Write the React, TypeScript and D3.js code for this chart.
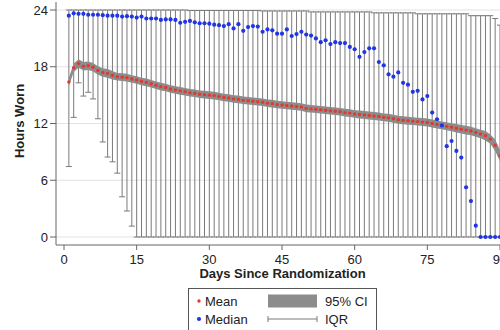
import React from "react";
import * as d3 from "d3";

// Daily device wear, days 1..90 after randomization
const days: number[] = d3.range(1, 91);

const meanHours: number[] = [
  16.4, 17.9, 18.35, 18.05, 18.1, 17.95, 17.6, 17.4, 17.3, 17.1,
  16.95, 16.9, 16.85, 16.7, 16.6, 16.45, 16.35, 16.2, 16.05, 15.9,
  15.8, 15.65, 15.55, 15.45, 15.35, 15.25, 15.2, 15.1, 15.05, 15.0,
  14.95, 14.85, 14.75, 14.7, 14.6, 14.55, 14.45, 14.4, 14.35, 14.3,
  14.25, 14.15, 14.1, 14.0, 13.95, 13.9, 13.85, 13.8, 13.75, 13.6,
  13.55, 13.5, 13.45, 13.4, 13.35, 13.3, 13.25, 13.15, 13.1, 13.0,
  12.95, 12.9, 12.85, 12.8, 12.75, 12.65, 12.6, 12.5, 12.4, 12.35,
  12.3, 12.25, 12.2, 12.15, 12.1, 12.0, 11.9, 11.8, 11.7, 11.6,
  11.5, 11.4, 11.3, 11.2, 11.05, 10.9, 10.7, 10.35, 9.7, 8.6,
];

// Half-width of the 95% confidence interval of the mean
const ciHalfWidth: number[] = [
  0.45, 0.45, 0.45, 0.45, 0.45, 0.45, 0.45, 0.45, 0.45, 0.45,
  0.4, 0.4, 0.4, 0.4, 0.4, 0.4, 0.4, 0.4, 0.4, 0.4,
  0.4, 0.4, 0.4, 0.4, 0.4, 0.4, 0.4, 0.4, 0.4, 0.4,
  0.4, 0.4, 0.4, 0.4, 0.4, 0.4, 0.4, 0.4, 0.4, 0.4,
  0.4, 0.4, 0.4, 0.4, 0.4, 0.4, 0.4, 0.4, 0.4, 0.4,
  0.4, 0.4, 0.4, 0.4, 0.4, 0.4, 0.4, 0.4, 0.4, 0.4,
  0.42, 0.42, 0.42, 0.42, 0.42, 0.42, 0.42, 0.42, 0.42, 0.42,
  0.42, 0.42, 0.42, 0.42, 0.42, 0.42, 0.42, 0.42, 0.42, 0.42,
  0.45, 0.45, 0.45, 0.45, 0.45, 0.45, 0.5, 0.5, 0.6, 0.6,
];

const medianHours: number[] = [
  23.4, 23.65, 23.6, 23.6, 23.5, 23.5, 23.5, 23.45, 23.4, 23.4,
  23.4, 23.3, 23.35, 23.3, 23.2, 23.3, 23.1, 23.1, 23.1, 22.95,
  23.0, 23.0, 22.95, 22.65, 22.75, 22.85, 22.7, 22.6, 22.6, 22.55,
  22.45, 22.4, 22.3, 22.5, 22.05, 22.5, 21.8, 22.2, 22.3, 22.25,
  21.7, 21.95, 21.85, 21.5, 21.5, 21.95, 21.25, 21.45, 21.7, 21.4,
  21.3, 21.0, 20.6, 20.8, 20.4, 20.6, 20.5, 20.5, 20.1, 19.85,
  19.05, 19.55, 19.95, 19.95, 18.5, 18.15, 17.2, 16.95, 17.4, 16.3,
  16.1, 15.35, 15.45, 14.55, 14.9, 13.15, 12.45, 11.8, 9.6, 10.15,
  9.1, 8.4, 5.25, 3.8, 1.2, 0, 0, 0, 0, 0,
];

const q1Hours: number[] = [
  7.45, 12.65, 16.3, 14.9, 15.3, 14.6, 12.5, 10.05, 8.45, 7.95,
  6.75, 4.25, 2.75, 1.15, 0, 0, 0, 0, 0, 0,
  0, 0, 0, 0, 0, 0, 0, 0, 0, 0,
  0, 0, 0, 0, 0, 0, 0, 0, 0, 0,
  0, 0, 0, 0, 0, 0, 0, 0, 0, 0,
  0, 0, 0, 0, 0, 0, 0, 0, 0, 0,
  0, 0, 0, 0, 0, 0, 0, 0, 0, 0,
  0, 0, 0, 0, 0, 0, 0, 0, 0, 0,
  0, 0, 0, 0, 0, 0, 0, 0, 0, 0,
];

const q3Hours: number[] = [
  24, 24, 24, 24, 24, 24, 24, 24, 24, 24,
  24, 24, 24, 24, 24, 24, 24, 24, 24, 24,
  24, 24, 24, 24, 24, 23.95, 23.95, 23.95, 23.95, 23.95,
  23.95, 23.95, 23.95, 23.95, 23.95, 23.95, 23.95, 23.95, 23.95, 23.95,
  23.9, 23.9, 23.9, 23.9, 23.9, 23.9, 23.9, 23.9, 23.9, 23.9,
  23.8, 23.8, 23.8, 23.8, 23.8, 23.8, 23.8, 23.8, 23.8, 23.8,
  23.8, 23.8, 23.8, 23.7, 23.7, 23.7, 23.7, 23.7, 23.7, 23.7,
  23.7, 23.7, 23.6, 23.6, 23.6, 23.6, 23.6, 23.6, 23.6, 23.6,
  23.6, 23.6, 23.6, 23.4, 23.4, 23.4, 23.4, 23.4, 23.1, 22.4,
];

const xTicks: number[] = [0, 15, 30, 45, 60, 75, 90];
const yTicks: number[] = [0, 6, 12, 18, 24];

const FONT = "'Liberation Sans', Arial, Helvetica, sans-serif";
const W = 500;
const H = 330;

export default function App() {
  const x = d3.scaleLinear().domain([0, 90]).range([64, 500]);
  const y = d3.scaleLinear().domain([0, 24]).range([237, 10]);

  const rows = days.map((d, i) => ({
    day: d,
    mean: meanHours[i],
    lo: meanHours[i] - ciHalfWidth[i],
    hi: meanHours[i] + ciHalfWidth[i],
    median: medianHours[i],
    q1: q1Hours[i],
    q3: q3Hours[i],
  }));

  const band = d3
    .area<(typeof rows)[number]>()
    .x((r) => x(r.day))
    .y0((r) => y(r.lo))
    .y1((r) => y(r.hi));

  const axisX0 = 56;
  const axisY0 = 245;
  const cap = 3;

  return (
    <svg
      width={W}
      height={H}
      viewBox={`0 0 ${W} ${H}`}
      style={{ position: "absolute", left: 0, top: 0, background: "#fff" }}
      fontFamily={FONT}
    >
      <rect x={0} y={0} width={W} height={H} fill="#fff" />

      {/* horizontal grid */}
      {yTicks.map((t) => (
        <line key={`g${t}`} x1={axisX0} x2={W} y1={y(t)} y2={y(t)} stroke="#e3e3e3" strokeWidth={1} />
      ))}

      {/* interquartile range whiskers */}
      <g stroke="#7a7a7a" strokeWidth={1} fill="none">
        {rows.map((r) => (
          <g key={`iqr${r.day}`}>
            <line x1={x(r.day)} x2={x(r.day)} y1={y(r.q1)} y2={y(r.q3)} />
            <line x1={x(r.day) - cap} x2={x(r.day) + cap} y1={y(r.q1)} y2={y(r.q1)} />
            <line x1={x(r.day) - cap} x2={x(r.day) + cap} y1={y(r.q3)} y2={y(r.q3)} />
          </g>
        ))}
      </g>

      {/* 95% CI of the mean */}
      <path d={band(rows) ?? ""} fill="#8c8c8c" stroke="none" />

      {/* mean */}
      {rows.map((r) => (
        <circle key={`m${r.day}`} cx={x(r.day)} cy={y(r.mean)} r={1.7} fill="#e8362a" />
      ))}

      {/* median */}
      {rows.map((r) => (
        <circle key={`md${r.day}`} cx={x(r.day)} cy={y(r.median)} r={2.1} fill="#2235e6" />
      ))}

      {/* y axis */}
      <line x1={axisX0} x2={axisX0} y1={2} y2={axisY0} stroke="#666" strokeWidth={1} />
      {yTicks.map((t) => (
        <g key={`yt${t}`}>
          <line x1={axisX0 - 6} x2={axisX0} y1={y(t)} y2={y(t)} stroke="#666" strokeWidth={1} />
          <text x={axisX0 - 8} y={y(t)} dy="0.35em" textAnchor="end" fontSize={13} fill="#222">
            {t}
          </text>
        </g>
      ))}
      <text
        transform="translate(24,121) rotate(-90)"
        textAnchor="middle"
        fontSize={13}
        fontWeight="bold"
        fill="#222"
      >
        Hours Worn
      </text>

      {/* x axis */}
      <line x1={axisX0} x2={W} y1={axisY0} y2={axisY0} stroke="#666" strokeWidth={1} />
      {xTicks.map((t) => (
        <g key={`xt${t}`}>
          <line x1={x(t)} x2={x(t)} y1={axisY0} y2={axisY0 + 5} stroke="#666" strokeWidth={1} />
          <text x={x(t)} y={264} textAnchor="middle" fontSize={13} fill="#222">
            {t}
          </text>
        </g>
      ))}
      <text x={282.5} y={278} textAnchor="middle" fontSize={13} fontWeight="bold" fill="#222">
        Days Since Randomization
      </text>

      {/* legend */}
      <g>
        <rect x={188.5} y={288.5} width={188} height={50} fill="#fff" stroke="#555" strokeWidth={1} />
        <circle cx={199} cy={301} r={1.7} fill="#e8362a" />
        <text x={205} y={306} fontSize={13} fill="#222">Mean</text>
        <circle cx={199} cy={319} r={2.1} fill="#2235e6" />
        <text x={205} y={324} fontSize={13} fill="#222">Median</text>
        <rect x={268} y={294.5} width={49} height={13} fill="#8c8c8c" />
        <text x={325} y={306} fontSize={13} fill="#222">95% CI</text>
        <g stroke="#7a7a7a" strokeWidth={1}>
          <line x1={268} x2={317} y1={319} y2={319} />
          <line x1={268} x2={268} y1={316} y2={322} />
          <line x1={317} x2={317} y1={316} y2={322} />
        </g>
        <text x={325} y={324} fontSize={13} fill="#222">IQR</text>
      </g>
    </svg>
  );
}
